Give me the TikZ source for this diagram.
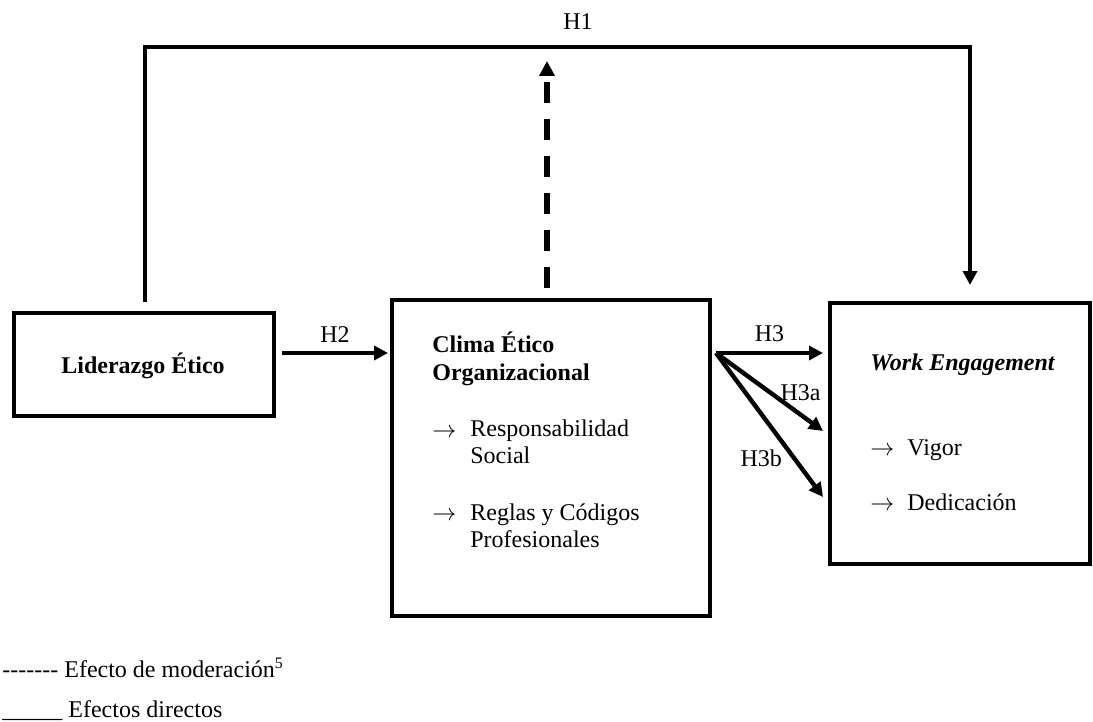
\documentclass[tikz,border=0pt]{standalone}
\usepackage{fontspec}
\setmainfont{Liberation Serif}
\usetikzlibrary{arrows.meta}

\tikzset{
  box/.style={draw, line width=2pt, inner sep=0pt},
  txt/.style={anchor=base west, inner sep=0pt, align=left},
  hyp/.style={line width=2.2pt, -{Triangle[length=7pt,width=7pt]}},
  modline/.style={line width=2.8pt, dash pattern=on 10.5pt off 8pt, -{Triangle[length=7.5pt,width=7.5pt]}}
}

\begin{document}
\begin{tikzpicture}[x=0.5pt, y=-0.5pt, font=\fontsize{12}{13.5}\selectfont]
      \useasboundingbox (0,0) rectangle (1093,722);
      % boxes
      \node (lid) [box, minimum width=130pt, minimum height=51.5pt] at (144,364.5) {};
      \node (clima) [box, minimum width=159pt, minimum height=158pt] at (551,458) {};
      \node (work) [box, minimum width=130pt, minimum height=130.5pt] at (960,433.5) {};
      % texts in the boxes (base = last line)
      \node (lidt) at (143,366) {\textbf{Liderazgo Ético}};
      \node (climat) [txt] at (432,380) {\textbf{Clima Ético}\\[0.5pt]\textbf{Organizacional}};
      \node (a1) [txt] at (432,437) {$\rightarrow$};
      \node (rs) [txt] at (470,463) {Responsabilidad\\Social};
      \node (a2) [txt] at (432,520) {$\rightarrow$};
      \node (rc) [txt] at (470,547) {Reglas y Códigos\\Profesionales};
      \node (workt) [txt] at (870,370) {\textbf{\textit{Work Engagement}}};
      \node (a3) [txt] at (870,455) {$\rightarrow$};
      \node (vig) [txt] at (907,455) {Vigor};
      \node (a4) [txt] at (870,510) {$\rightarrow$};
      \node (ded) [txt] at (907,510) {Dedicación};
      % H1
      \coordinate (h1s) at (145,302);
      \coordinate (h1e) at (970,285);
      \draw [line width=2pt, -{Triangle[length=7pt,width=7pt]}] (h1s) -- (145,47) -| (h1e);
      \node (h1) at (578,22) {H1};
      % moderation
      \coordinate (ms) at (547,288);
      \coordinate (me) at (547,61);
      \draw [modline] (ms) -- (me);
      % H2
      \coordinate (h2s) at (282,353);
      \coordinate (h2e) at (388,353);
      \draw [hyp] (h2s) -- node[above=1pt] {H2} (h2e);
      % H3
      \coordinate (h3s) at (716,353);
      \coordinate (h3e) at (823,353);
      \coordinate (h3ae) at (823,431);
      \coordinate (h3be) at (823,497);
      \draw [hyp] (h3s) -- node[above=1pt] {H3} (h3e);
      \draw [hyp] (h3s) -- node[pos=0.79, above=4pt, inner sep=2pt] {H3a} (h3ae);
      \draw [hyp] (h3s) -- node[pos=0.73, left=4pt, inner sep=1pt] {H3b} (h3be);
      % legend
      \node (leg1) [txt] at (2,677) {\mbox{-}\mbox{-}\mbox{-}\mbox{-}\mbox{-}\mbox{-}\mbox{-} Efecto de moderación\textsuperscript{5}};
      \node (leg2) [txt] at (2,717) {\_\_\_\_\_ Efectos directos};
\end{tikzpicture}
\end{document}
